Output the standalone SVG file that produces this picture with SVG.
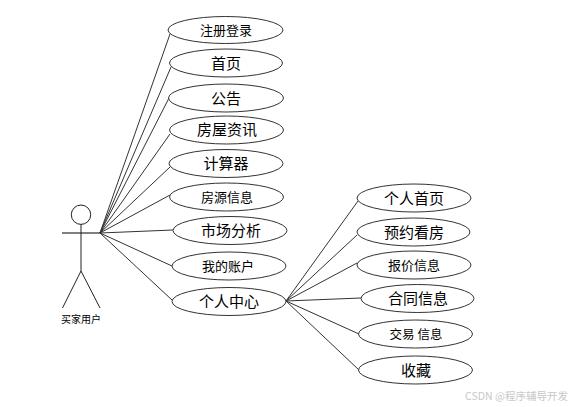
<svg xmlns="http://www.w3.org/2000/svg" width="573" height="407" viewBox="0 0 573 407">
<style>
.n ellipse{fill:#fff;stroke:#333;stroke-width:1}
text{font-family:"Noto Sans CJK SC","Liberation Sans",sans-serif;fill:#000;text-anchor:middle;font-size:15px}
text.s{font-size:13px}
.c line{stroke:#333;stroke-width:1}
.a *{fill:none;stroke:#222;stroke-width:1}
</style>
<rect width="573" height="407" fill="#fff"/>
<g id="connectors" class="c">
<line x1="100" y1="233" x2="170" y2="34"/>
<line x1="100" y1="233" x2="171" y2="67"/>
<line x1="100" y1="233" x2="169" y2="98"/>
<line x1="100" y1="233" x2="170" y2="134"/>
<line x1="100" y1="233" x2="170" y2="167"/>
<line x1="100" y1="233" x2="170" y2="195"/>
<line x1="100" y1="233" x2="173" y2="230"/>
<line x1="100" y1="233" x2="172" y2="266"/>
<line x1="100" y1="233" x2="172" y2="300"/>
<line x1="286" y1="301" x2="358" y2="201"/>
<line x1="286" y1="301" x2="357" y2="235"/>
<line x1="286" y1="301" x2="357" y2="263"/>
<line x1="286" y1="301" x2="361" y2="298"/>
<line x1="286" y1="301" x2="359" y2="334"/>
<line x1="286" y1="301" x2="359" y2="370"/>
</g>
<g id="actor" class="a">
<circle cx="81" cy="214.7" r="9.7"/>
<line x1="62" y1="233" x2="100" y2="233" style="stroke:#000"/>
<line x1="81" y1="224.5" x2="81" y2="271"/>
<line x1="81" y1="271" x2="62.5" y2="308"/>
<line x1="81" y1="271" x2="100" y2="308"/>
</g>
<text x="81" y="323" style="font-size:10px">买家用户</text>
<g id="n1" class="n"><ellipse cx="225.5" cy="30" rx="57.5" ry="13.5"/><text class="s" x="226" y="34.500">注册登录</text></g>
<g id="n2" class="n"><ellipse cx="226" cy="63" rx="56.500" ry="14"/><text x="226" y="68.500">首页</text></g>
<g id="n3" class="n"><ellipse cx="226" cy="98" rx="57.500" ry="14"/><text x="226" y="103.500">公告</text></g>
<g id="n4" class="n"><ellipse cx="226.500" cy="130" rx="57" ry="14"/><text x="227" y="135">房屋资讯</text></g>
<g id="n5" class="n"><ellipse cx="226" cy="163.500" rx="57" ry="14"/><text x="226" y="169">计算器</text></g>
<g id="n6" class="n"><ellipse cx="226.500" cy="197" rx="57" ry="14"/><text class="s" x="227" y="201.500">房源信息</text></g>
<g id="n7" class="n"><ellipse cx="230" cy="230.500" rx="57" ry="14"/><text x="231" y="236">市场分析</text></g>
<g id="n8" class="n"><ellipse cx="229" cy="266" rx="57" ry="14"/><text class="s" x="228" y="270.500">我的账户</text></g>
<g id="n9" class="n"><ellipse cx="229" cy="301.500" rx="57" ry="14"/><text x="229" y="307">个人中心</text></g>
<g id="m1" class="n"><ellipse cx="414" cy="198" rx="57" ry="14"/><text x="414" y="203.500">个人首页</text></g>
<g id="m2" class="n"><ellipse cx="413.500" cy="232" rx="56.500" ry="14"/><text x="414" y="237.500">预约看房</text></g>
<g id="m3" class="n"><ellipse cx="414" cy="265" rx="57" ry="14"/><text class="s" x="414" y="269.500">报价信息</text></g>
<g id="m4" class="n"><ellipse cx="417.500" cy="298.500" rx="56.500" ry="14"/><text x="418" y="304">合同信息</text></g>
<g id="m5" class="n"><ellipse cx="415.500" cy="334" rx="57" ry="14"/><text x="416" y="338.500" style="font-size:12.500px">交易 信息</text></g>
<g id="m6" class="n"><ellipse cx="415.500" cy="370" rx="57" ry="14"/><text x="416" y="375.500">收藏</text></g>
<text x="516.500" y="400" style="font-size:10.500px;fill:#c8c8c8">CSDN @程序辅导开发</text>
</svg>
